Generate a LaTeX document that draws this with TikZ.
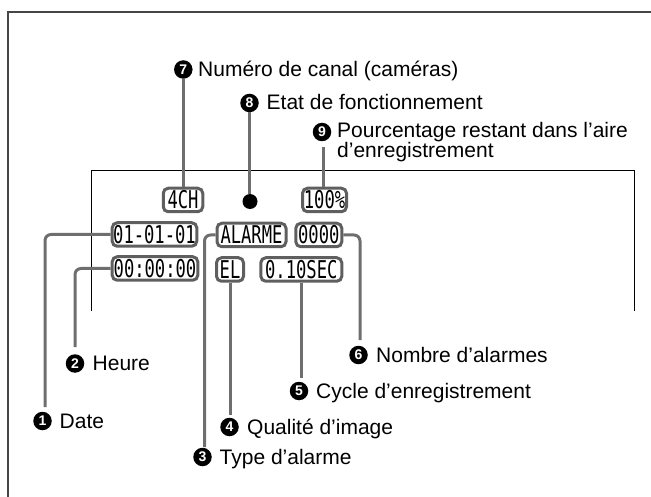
\documentclass[tikz,border=0pt]{standalone}
\usepackage{fontspec}
\setmainfont{Liberation Sans}
\newfontfamily\lcdfont[FakeStretch=0.7]{DejaVu Sans Mono}
\definecolor{boxgray}{RGB}{95,95,95}
\definecolor{linegray}{RGB}{110,110,110}
\definecolor{framegray}{RGB}{70,70,70}
\begin{document}
\begin{tikzpicture}[x=1pt,y=-1pt,
  lcd/.style={draw=boxgray, line width=3pt, rounded corners=5pt, inner sep=0pt,
    minimum height=23.5pt, font=\lcdfont\fontsize{24.5}{24.5}\selectfont},
  marker/.style={circle, fill=black, inner sep=0pt, minimum size=18.5pt, text=white,
    font=\bfseries\fontsize{14}{14}\selectfont},
  lbl/.style={anchor=base west, inner sep=0pt, font=\fontsize{21}{20}\selectfont},
  conn/.style={draw=linegray, line width=3pt, rounded corners=6pt}]
\useasboundingbox (0,0) rectangle (651,497);
% outer frame (cut off at right and bottom)
\draw[framegray, line width=1.5pt] (651,12) -- (8,12) -- (8,497);
% screen outline
\draw[black, line width=1pt] (91,311) -- (91,171) -- (634,171) -- (634,311);

% display items
\node[lcd, minimum width=39.5pt] (ch) at (183,200) {4CH};
\node[circle, fill=black, inner sep=0pt, minimum size=15pt] (dot) at (250,201.5) {};
\node[lcd, minimum width=44pt] (pct) at (324.5,200) {100\%};
\node[lcd, minimum width=84.6pt] (date) at (154.5,234.5) {01-01-01};
\node[lcd, minimum width=69pt] (alarme) at (251.5,235) {ALARME};
\node[lcd, minimum width=46pt] (cnt) at (318.8,235) {0000};
\node[lcd, minimum width=85.6pt] (time) at (155,268.5) {00:00:00};
\node[lcd, minimum width=27pt] (el) at (230,269.5) {EL};
\node[lcd, minimum width=81pt] (sec) at (301.3,269.5) {0.10SEC};

% markers
\node[marker] (m1) at (42.5,421) {1};
\node[marker] (m2) at (75,363.5) {2};
\node[marker] (m3) at (202.5,457) {3};
\node[marker] (m4) at (229.5,427) {4};
\node[marker] (m5) at (299,391) {5};
\node[marker] (m6) at (358.5,355) {6};
\node[marker] (m7) at (183.3,69.5) {7};
\node[marker] (m8) at (249.5,103) {8};
\node[marker] (m9) at (322,132) {9};

% labels
\node[lbl] (t1) at (59.5,428) {Date};
\node[lbl] (t2) at (92.5,370.5) {Heure};
\node[lbl] (t3) at (219.5,464) {Type d’alarme};
\node[lbl] (t4) at (247,434) {Qualité d’image};
\node[lbl] (t5) at (316,398) {Cycle d’enregistrement};
\node[lbl] (t6) at (376,362) {Nombre d’alarmes};
\node[lbl] (t7) at (198,76.5) {Numéro de canal (caméras)};
\node[lbl] (t8) at (266.5,110) {Etat de fonctionnement};
\node[lbl] (t9) at (337,138) {Pourcentage restant dans l’aire};
\node[lbl] (t9b) at (337,158) {d’enregistrement};

% connector end points
\coordinate (c1) at (45,407);
\coordinate (c2) at (75,347);
\coordinate (c3) at (204.5,447);
\coordinate (c4) at (230,415);
\coordinate (c5) at (301.3,378);
\coordinate (c6) at (360,340);
\coordinate (c9) at (323,147);

% connectors
\draw[conn] (date.west) -| (c1);
\draw[conn] (time.west) -| (c2);
\draw[conn] (alarme.west) -| (c3);
\draw[conn] (el.south) -- (c4);
\draw[conn] (sec.south) -- (c5);
\draw[conn] (cnt.east) -| (c6);
\draw[conn] (m7.south) -- (m7.south |- ch.north);
\draw[conn] (m8.south) -- (m8.south |- dot.north);
\draw[conn] (c9) -- (c9 |- pct.north);
\end{tikzpicture}
\end{document}
